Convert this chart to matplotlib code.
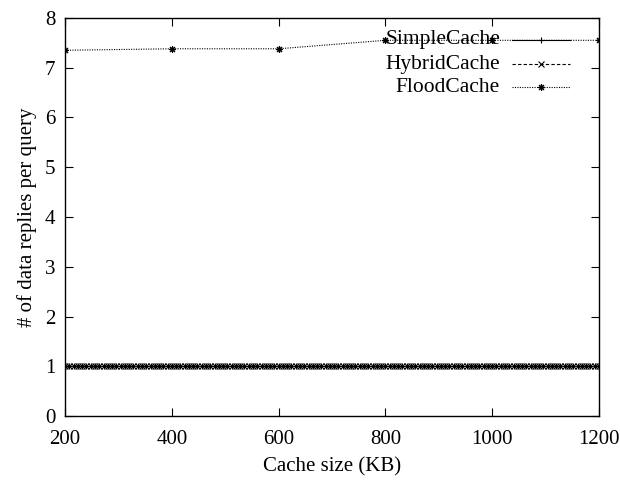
import matplotlib
matplotlib.use("Agg")
import matplotlib.pyplot as plt
from matplotlib.lines import Line2D

plt.rcParams["font.family"] = ["Liberation Serif", "DejaVu Serif"]

# cache sizes sampled for simple / hybrid caching (KB)
dense_sizes = list(range(200, 1201, 8))
simple_replies = [1.0] * len(dense_sizes)
hybrid_replies = [1.0] * len(dense_sizes)

# flooding measured at coarser steps
flood_sizes = [200, 400, 600, 800, 1000, 1200]
flood_replies = [7.35, 7.38, 7.38, 7.55, 7.55, 7.55]

x_ticks = [200, 400, 600, 800, 1000, 1200]
y_ticks = [0, 1, 2, 3, 4, 5, 6, 7, 8]

star = (8, 2, 0)
series = [
    ("SimpleCache", dense_sizes, simple_replies, "-", "+"),
    ("HybridCache", dense_sizes, hybrid_replies, (0, (3, 2)), "x"),
    ("FloodCache", flood_sizes, flood_replies, (0, (1, 1.2)), star),
]

fig = plt.figure(figsize=(6.2, 4.84), dpi=100)
ax = fig.add_axes([0.105, 0.140, 0.861, 0.823])

for name, xs, ys, ls, mk in series:
    ax.plot(xs, ys, color="black", linestyle=ls, linewidth=0.8,
            marker=mk, markersize=5, markeredgewidth=0.8)

ax.set_xlim(200, 1200)
ax.set_ylim(0, 8)
ax.set_xticks(x_ticks)
ax.set_yticks(y_ticks)
ax.tick_params(direction="in", length=6, width=0.8, labelsize=15,
               top=True, right=True)
ax.tick_params(axis="x", pad=10)
ax.tick_params(axis="y", pad=7)
for sp in ax.spines.values():
    sp.set_linewidth(1.0)

ax.set_xlabel("Cache size (KB)", fontsize=15, labelpad=6)
ax.set_ylabel("# of data replies per query", fontsize=15, labelpad=6)

# gnuplot-style key: right aligned text, sample line to its right
key_rows = [0.945, 0.884, 0.826]
for (name, xs, ys, ls, mk), yk in zip(series, key_rows):
    ax.text(0.815, yk, name, transform=ax.transAxes, ha="right",
            va="center", fontsize=15.5)
    ax.add_line(Line2D([0.837, 0.946], [yk, yk], transform=ax.transAxes,
                       color="black", linestyle=ls, linewidth=0.8))
    ax.add_line(Line2D([0.8915], [yk], transform=ax.transAxes,
                       color="black", marker=mk, markersize=5,
                       markeredgewidth=0.8, linestyle="none"))

fig.savefig("out.png", dpi=100)
